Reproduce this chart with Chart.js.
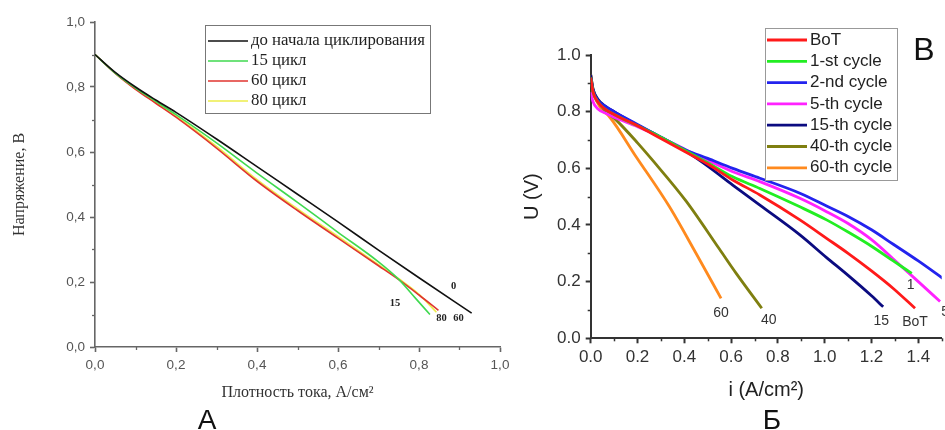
<!DOCTYPE html>
<html>
<head>
<meta charset="utf-8">
<script src="https://cdn.jsdelivr.net/npm/chart.js@4/dist/chart.umd.min.js"></script>
<style>
  html, body { margin: 0; padding: 0; background: #fff; }
  body { width: 945px; height: 430px; position: relative; overflow: hidden; }
  #cA { position: absolute; left: 0; top: 0; }
  #cB { position: absolute; left: 470px; top: 0; }
  .cap { position: absolute; font-family: "Liberation Sans", Arial, sans-serif; color: #111; line-height: 1; transform: translate(-50%, -50%); }
</style>
</head>
<body>
<canvas id="cA" width="520" height="430"></canvas>
<canvas id="cB" width="475" height="430"></canvas>
<div class="cap" style="left:207px; top:420px; font-size:28px;">А</div>
<div class="cap" style="left:772px; top:420px; font-size:28px;">Б</div>
<div class="cap" style="left:924px; top:49px; font-size:32px;">B</div>
<script>
// ---- Panel A: polarization curves, current density (A/cm²) vs voltage (V) ----
const namesA = ['до начала циклирования', '15 цикл', '60 цикл', '80 цикл'];
const tagsA = ['0', '15', '60', '80'];

const jBase = [0, 0.05, 0.1, 0.15, 0.2, 0.3, 0.4, 0.5, 0.6, 0.7, 0.8, 0.93];
const uBase = [0.9, 0.845, 0.8, 0.76, 0.722, 0.64, 0.555, 0.47, 0.385, 0.298, 0.213, 0.104];
const j15 = [0, 0.05, 0.1, 0.15, 0.2, 0.3, 0.4, 0.5, 0.6, 0.7, 0.75, 0.79, 0.827];
const u15 = [0.9, 0.843, 0.797, 0.756, 0.715, 0.628, 0.535, 0.445, 0.353, 0.262, 0.208, 0.152, 0.1];
const j60 = [0, 0.05, 0.1, 0.15, 0.2, 0.3, 0.4, 0.5, 0.6, 0.7, 0.75, 0.8, 0.848];
const u60 = [0.9, 0.842, 0.793, 0.75, 0.707, 0.612, 0.51, 0.42, 0.335, 0.25, 0.207, 0.16, 0.113];
const j80 = [0, 0.05, 0.1, 0.15, 0.2, 0.3, 0.4, 0.5, 0.6, 0.7, 0.75, 0.8, 0.843];
const u80 = [0.9, 0.843, 0.795, 0.752, 0.71, 0.617, 0.515, 0.425, 0.34, 0.253, 0.21, 0.162, 0.107];

// ---- Panel Б: i (A/cm²) vs U (V) over cycling ----
const namesB = ['BoT', '1-st cycle', '2-nd cycle', '5-th cycle', '15-th cycle', '40-th cycle', '60-th cycle'];
const tagsB = ['BoT', '1', '2', '5', '15', '40', '60'];

const iBoT = [0, 0.01, 0.03, 0.06, 0.1, 0.2, 0.3, 0.4, 0.5, 0.607, 0.723, 0.894, 1.008, 1.1, 1.2, 1.293, 1.386];
const uBoT = [0.92, 0.87, 0.835, 0.81, 0.79, 0.75, 0.705, 0.66, 0.615, 0.559, 0.506, 0.418, 0.353, 0.3, 0.238, 0.176, 0.106];
const iC1 = [0, 0.01, 0.03, 0.06, 0.1, 0.2, 0.3, 0.4, 0.5, 0.607, 0.723, 0.894, 1.008, 1.1, 1.2, 1.293, 1.372];
const uC1 = [0.92, 0.87, 0.835, 0.81, 0.79, 0.75, 0.71, 0.665, 0.62, 0.57, 0.529, 0.464, 0.418, 0.375, 0.325, 0.273, 0.229];
const iC2 = [0, 0.01, 0.03, 0.065, 0.1, 0.2, 0.3, 0.407, 0.5, 0.607, 0.723, 0.894, 1.008, 1.1, 1.2, 1.293, 1.4, 1.504];
const uC2 = [0.92, 0.875, 0.84, 0.818, 0.8, 0.755, 0.71, 0.665, 0.635, 0.6, 0.565, 0.512, 0.467, 0.43, 0.383, 0.332, 0.273, 0.212];
const iC5 = [0, 0.01, 0.03, 0.065, 0.1, 0.2, 0.3, 0.407, 0.5, 0.607, 0.723, 0.894, 1.008, 1.1, 1.2, 1.293, 1.4, 1.493];
const uC5 = [0.87, 0.835, 0.81, 0.794, 0.78, 0.747, 0.71, 0.665, 0.628, 0.588, 0.553, 0.494, 0.447, 0.405, 0.348, 0.28, 0.2, 0.13];
const iC15 = [0, 0.01, 0.03, 0.065, 0.1, 0.194, 0.3, 0.407, 0.5, 0.607, 0.723, 0.894, 1.008, 1.1, 1.2, 1.25];
const uC15 = [0.93, 0.88, 0.845, 0.818, 0.8, 0.755, 0.71, 0.66, 0.608, 0.541, 0.47, 0.365, 0.285, 0.222, 0.15, 0.111];
const iC40 = [0, 0.01, 0.03, 0.06, 0.108, 0.2, 0.265, 0.407, 0.55, 0.621, 0.731];
const uC40 = [0.93, 0.88, 0.84, 0.805, 0.771, 0.69, 0.628, 0.485, 0.315, 0.23, 0.106];
const iC60 = [0, 0.01, 0.03, 0.05, 0.08, 0.194, 0.336, 0.45, 0.557];
const uC60 = [0.93, 0.87, 0.83, 0.805, 0.782, 0.641, 0.465, 0.3, 0.141];

const pairs = (xs, ys) => xs.map((x, k) => ({ x, y: ys[k] }));

// short ticks halfway between the labelled ones
const minorTicks = {
  id: 'minorTicks',
  afterDraw(chart, args, o) {
    const ctx = chart.ctx;
    ctx.save();
    ctx.strokeStyle = o.color;
    ctx.lineWidth = o.width;
    ['x', 'y'].forEach(id => {
      const s = chart.scales[id];
      for (let v = s.min + o.step / 2; v <= s.max + 1e-9; v += o.step) {
        const p = Math.round(s.getPixelForValue(v)) + 0.5;
        ctx.beginPath();
        if (id === 'x') { ctx.moveTo(p, s.top); ctx.lineTo(p, s.top + o.len); }
        else { ctx.moveTo(s.right, p); ctx.lineTo(s.right - o.len, p); }
        ctx.stroke();
      }
    });
    ctx.restore();
  }
};

// framed legend listing every dataset with a line sample
const boxLegend = {
  id: 'boxLegend',
  afterDraw(chart, args, o) {
    const ctx = chart.ctx;
    ctx.save();
    ctx.fillStyle = '#fff';
    ctx.fillRect(o.left, o.top, o.width, o.height);
    ctx.strokeStyle = o.border;
    ctx.lineWidth = 1;
    ctx.strokeRect(o.left + 0.5, o.top + 0.5, o.width, o.height);
    ctx.font = o.font;
    ctx.textBaseline = 'middle';
    ctx.textAlign = 'left';
    chart.data.datasets.forEach((ds, k) => {
      const y = o.firstRow + k * o.rowHeight;
      ctx.strokeStyle = ds.borderColor;
      ctx.lineWidth = o.lineWidth;
      ctx.beginPath();
      ctx.moveTo(o.lineFrom, y);
      ctx.lineTo(o.lineTo, y);
      ctx.stroke();
      ctx.fillStyle = o.textColor;
      ctx.fillText(ds.label, o.textX, y);
    });
    ctx.restore();
  }
};

// tag written next to the last point of a curve
const endLabels = {
  id: 'endLabels',
  afterDatasetsDraw(chart, args, o) {
    const ctx = chart.ctx;
    ctx.save();
    ctx.font = o.font;
    ctx.fillStyle = o.color;
    ctx.textAlign = 'center';
    ctx.textBaseline = 'middle';
    o.items.forEach(it => {
      const pts = chart.getDatasetMeta(it.ds).data;
      const p = pts[pts.length - 1];
      ctx.fillText(it.text, p.x + it.dx, p.y + it.dy);
    });
    ctx.restore();
  }
};

const keepMultiples = step => s => {
  s.ticks = s.ticks.filter(t => Math.abs(t.value / step - Math.round(t.value / step)) < 1e-6);
};

function axis(opts) {
  return {
    type: 'linear',
    position: opts.position,
    min: opts.min, max: opts.max,
    afterFit: s => { if (opts.position === 'left') s.width = opts.size; else s.height = opts.size; },
    afterBuildTicks: keepMultiples(opts.step),
    border: { display: true, color: opts.color, width: opts.lineW },
    grid: { display: true, drawOnChartArea: false, drawTicks: true, tickLength: 5, tickColor: opts.color, tickWidth: opts.lineW },
    ticks: {
      stepSize: opts.step, includeBounds: false, padding: opts.tickPad, color: opts.tickColor,
      font: opts.tickFont, autoSkip: false, maxRotation: 0,
      callback: opts.fmt
    },
    title: { display: true, text: opts.title, color: opts.titleColor, font: opts.titleFont, padding: opts.titlePad }
  };
}

const serif = '"Liberation Serif", "Times New Roman", serif';
const sans = '"Liberation Sans", Arial, sans-serif';

// ---------- chart A ----------
const colorsA = ['#111111', '#3fd94f', '#e0352f', '#ecec4a'];
const setsA = [[jBase, uBase], [j15, u15], [j60, u60], [j80, u80]];
new Chart(document.getElementById('cA'), {
  type: 'scatter',
  data: {
    datasets: setsA.map((s, k) => ({
      label: namesA[k], data: pairs(s[0], s[1]),
      showLine: true, borderColor: colorsA[k], backgroundColor: colorsA[k],
      borderWidth: 1.6, pointRadius: 0, cubicInterpolationMode: 'monotone', fill: false
    }))
  },
  options: {
    responsive: false, animation: false,
    layout: { padding: { left: 0, top: 22, right: 20, bottom: 0 } },
    scales: {
      x: axis({ position: 'bottom', min: 0, max: 1.0, step: 0.2, size: 83, color: '#666', lineW: 1.6,
        tickPad: 5, tickColor: '#555', tickFont: { family: sans, size: 13.5 },
        fmt: v => v.toFixed(1).replace('.', ','),
        title: 'Плотность тока, А/см²', titleColor: '#333', titleFont: { family: serif, size: 16 },
        titlePad: { top: 0, bottom: 28 } }),
      y: axis({ position: 'left', min: 0, max: 1.0, step: 0.2, size: 95, color: '#666', lineW: 1.6,
        tickPad: 5, tickColor: '#555', tickFont: { family: sans, size: 13.5 },
        fmt: v => v.toFixed(1).replace('.', ','),
        title: 'Напряжение, В', titleColor: '#333', titleFont: { family: serif, size: 16 },
        titlePad: { top: 10, bottom: 0 } })
    },
    plugins: {
      legend: { display: false }, tooltip: { enabled: false },
      minorTicks: { step: 0.2, len: 3, color: '#666', width: 1.3 },
      boxLegend: { left: 205, top: 25, width: 225, height: 88, firstRow: 41, rowHeight: 20,
        lineFrom: 208, lineTo: 248, textX: 251, lineWidth: 1.6,
        font: '16.8px ' + serif, textColor: '#222', border: '#777' },
      endLabels: { font: 'bold 10.5px ' + serif, color: '#222', items: [
        { ds: 0, text: tagsA[0], dx: -18, dy: -27 },
        { ds: 1, text: tagsA[1], dx: -35, dy: -11 },
        { ds: 2, text: tagsA[2], dx: 20, dy: 8 },
        { ds: 3, text: tagsA[3], dx: 5, dy: 6 }
      ] }
    }
  },
  plugins: [minorTicks, boxLegend, endLabels]
});

// ---------- chart Б ----------
const colorsB = ['#ff1a1a', '#22ee22', '#2323ee', '#ff22ff', '#0b0b80', '#7f7f10', '#ff8a1e'];
const setsB = [[iBoT, uBoT], [iC1, uC1], [iC2, uC2], [iC5, uC5], [iC15, uC15], [iC40, uC40], [iC60, uC60]];
new Chart(document.getElementById('cB'), {
  type: 'scatter',
  data: {
    datasets: setsB.map((s, k) => ({
      label: namesB[k], data: pairs(s[0], s[1]),
      showLine: true, borderColor: colorsB[k], backgroundColor: colorsB[k],
      borderWidth: 2.8, pointRadius: 0, cubicInterpolationMode: 'monotone', fill: false
    }))
  },
  options: {
    responsive: false, animation: false,
    layout: { padding: { left: 0, top: 55, right: 3.3, bottom: 0 } },
    scales: {
      x: axis({ position: 'bottom', min: 0, max: 1.5, step: 0.2, size: 91.7, color: '#333', lineW: 2,
        tickPad: 4, tickColor: '#333', tickFont: { family: sans, size: 17 },
        fmt: v => v.toFixed(1),
        title: 'i (A/cm²)', titleColor: '#222', titleFont: { family: sans, size: 20 },
        titlePad: { top: 0, bottom: 28 } }),
      y: axis({ position: 'left', min: 0, max: 1.0, step: 0.2, size: 120.7, color: '#333', lineW: 2,
        tickPad: 5, tickColor: '#333', tickFont: { family: sans, size: 17 },
        fmt: v => v.toFixed(1),
        title: 'U (V)', titleColor: '#222', titleFont: { family: sans, size: 20 },
        titlePad: { top: 50.5, bottom: 0 } })
    },
    plugins: {
      legend: { display: false }, tooltip: { enabled: false },
      minorTicks: { step: 0.2, len: 3, color: '#333', width: 1.5 },
      boxLegend: { left: 295, top: 28, width: 132, height: 152, firstRow: 40, rowHeight: 21.3,
        lineFrom: 297, lineTo: 337, textX: 340, lineWidth: 2.8,
        font: '17px ' + sans, textColor: '#222', border: '#999' },
      endLabels: { font: '14px ' + sans, color: '#333', items: [
        { ds: 0, text: tagsB[0], dx: 0, dy: 14 },
        { ds: 1, text: tagsB[1], dx: -1, dy: 12 },
        { ds: 2, text: tagsB[2], dx: 7, dy: 0 },
        { ds: 3, text: tagsB[3], dx: 5, dy: 11 },
        { ds: 4, text: tagsB[4], dx: -2, dy: 14 },
        { ds: 5, text: tagsB[5], dx: 7, dy: 12 },
        { ds: 6, text: tagsB[6], dx: 0, dy: 15 }
      ] }
    }
  },
  plugins: [minorTicks, boxLegend, endLabels]
});
</script>
</body>
</html>
